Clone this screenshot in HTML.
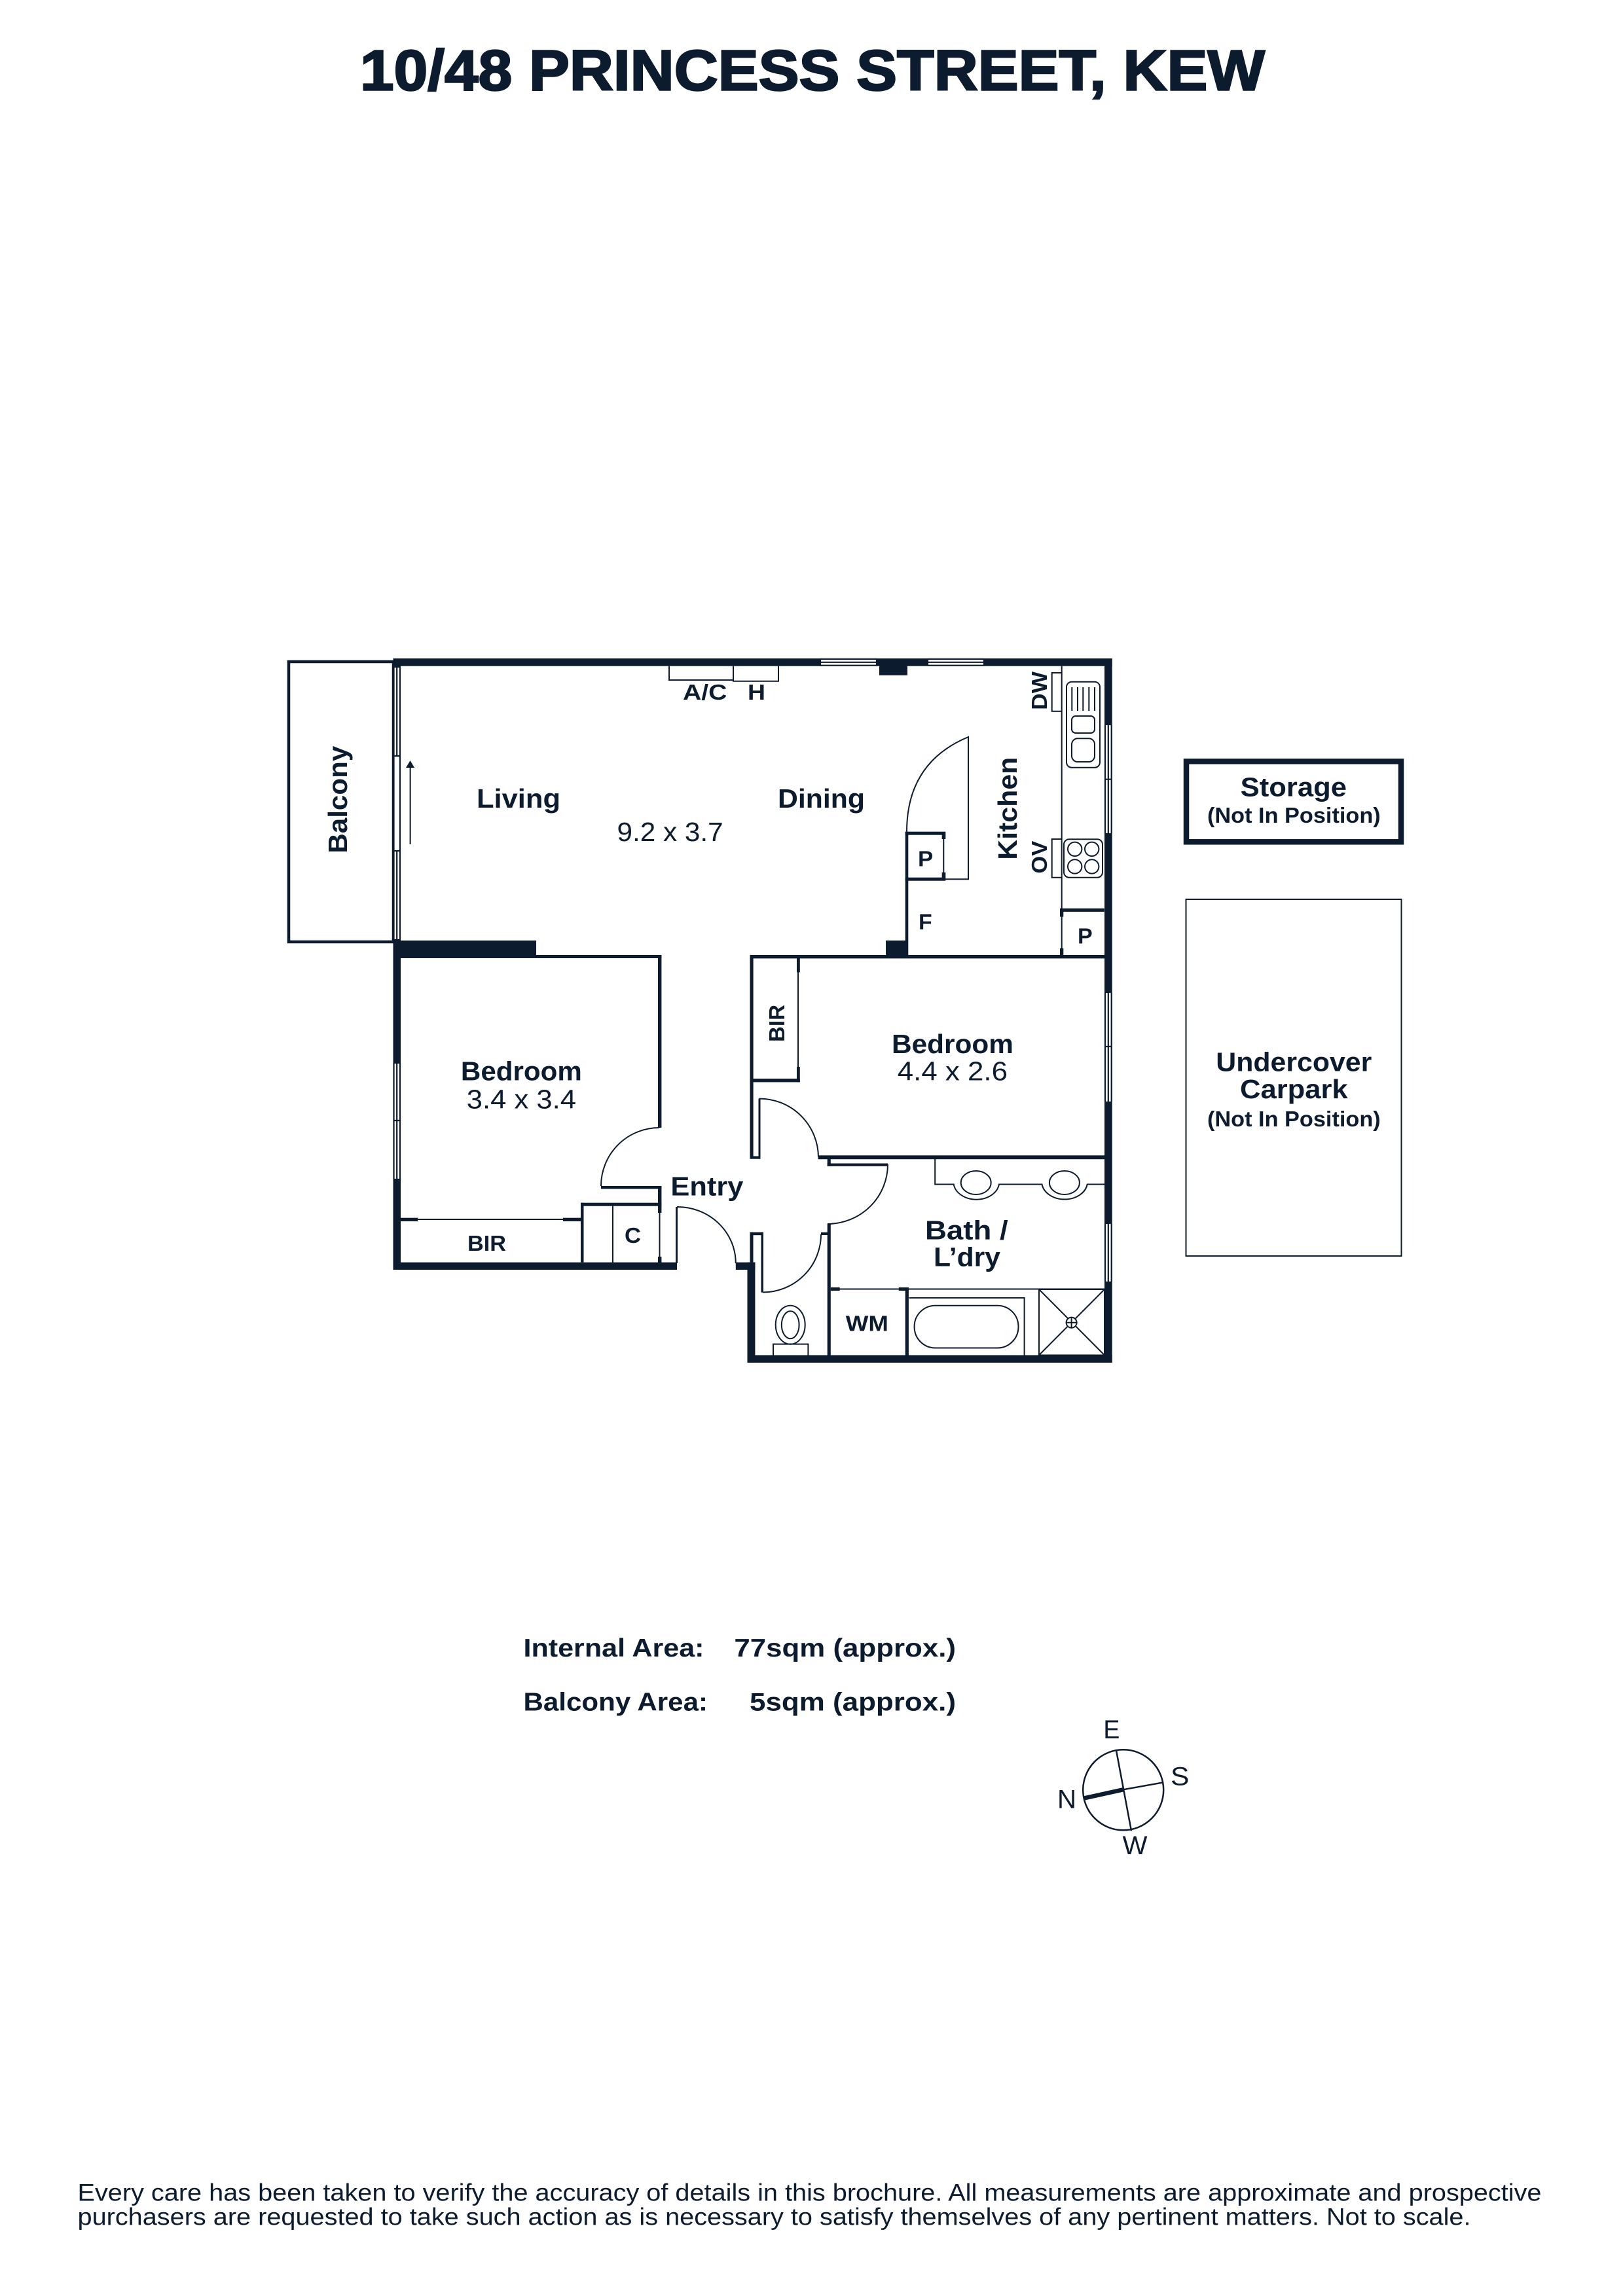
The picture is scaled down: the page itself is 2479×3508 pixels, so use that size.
<!DOCTYPE html>
<html lang="en">
<head>
<meta charset="utf-8">
<title>10/48 Princess Street, Kew</title>
<style>
html,body{margin:0;padding:0;background:#fff}
svg{display:block}
text{font-family:"Liberation Sans",sans-serif;fill:#0c1b2e}
</style>
</head>
<body>
<svg xmlns="http://www.w3.org/2000/svg" width="2479" height="3508" viewBox="0 0 2479 3508">
<rect width="2479" height="3508" fill="#fff"/>

<text x="550" y="137.3" font-size="87" font-weight="bold" stroke="#0c1b2e" stroke-width="2.5" textLength="1382" lengthAdjust="spacingAndGlyphs">10/48 PRINCESS STREET, KEW</text>

<!-- Balcony -->
<rect x="441" y="1011" width="160" height="428" fill="none" stroke="#0c1b2e" stroke-width="4.5"/>

<g fill="#0c1b2e">
<!-- outer walls -->
<rect x="600.5" y="1006" width="1098.2" height="11.7"/>
<rect x="1687" y="1006" width="11.7" height="1076"/>
<rect x="600.5" y="1006" width="11.5" height="934"/>
<rect x="600.5" y="1928.7" width="433.5" height="11.3"/>
<rect x="1123.8" y="1928.7" width="29.6" height="11.3"/>
<rect x="1141.5" y="1928.7" width="11.9" height="153.3"/>
<rect x="1141.5" y="2070.5" width="557.2" height="11.5"/>
<!-- blocks / columns -->
<rect x="600.5" y="1437" width="218.5" height="27"/>
<rect x="1343" y="1006" width="43" height="25.7"/>
<rect x="1353" y="1437" width="34" height="25"/>
<!-- bedroom 1 walls -->
<rect x="819" y="1459" width="191.4" height="5"/>
<rect x="1005" y="1459" width="5.4" height="264"/>
<rect x="918" y="1812" width="92.4" height="4.5"/>
<rect x="1005" y="1812" width="5.4" height="41"/>
<rect x="887" y="1837.7" width="123.4" height="5"/>
<rect x="887" y="1837.7" width="4.5" height="91"/>
<rect x="1005" y="1920" width="5.4" height="9"/>
<rect x="612" y="1860.7" width="26" height="5.3"/>
<rect x="860" y="1860.7" width="27" height="5.3"/>
<!-- bedroom 2 / central walls -->
<rect x="1145.5" y="1459" width="542" height="5.4"/>
<rect x="1145.5" y="1459" width="5.1" height="311.5"/>
<rect x="1158.5" y="1678.6" width="3" height="92"/>
<rect x="1145.5" y="1766.5" width="16" height="4.2"/>
<rect x="1217" y="1464" width="4.8" height="21.5"/>
<rect x="1217" y="1630" width="4.8" height="23.4"/>
<rect x="1150" y="1648" width="71.8" height="5.4"/>
<rect x="1249.5" y="1765.3" width="437.5" height="5.9"/>
<rect x="1263.7" y="1771" width="5.1" height="10.8"/>
<rect x="1263.7" y="1777.5" width="92.5" height="4.3"/>
<rect x="1263.7" y="1870" width="5.1" height="200.5"/>
<rect x="1254" y="1882.8" width="10" height="4.2"/>
<!-- wc door jamb -->
<rect x="1145.5" y="1882.7" width="5" height="46"/>
<rect x="1145.5" y="1882.7" width="20.5" height="4.5"/>
<rect x="1162.5" y="1882.7" width="3.5" height="92"/>
<!-- entry leaf -->
<rect x="1032" y="1844" width="3" height="86"/>
<!-- kitchen -->
<rect x="1382.7" y="1270.7" width="4.6" height="190"/>
<rect x="1382.7" y="1270.7" width="61.6" height="5"/>
<rect x="1382.7" y="1340.7" width="61.6" height="5"/>
<rect x="1438.7" y="1275" width="5.6" height="7"/>
<rect x="1438.7" y="1333" width="5.6" height="8"/>
<rect x="1619" y="1388" width="67.7" height="5"/>
<rect x="1619" y="1388" width="5.3" height="12.7"/>
<rect x="1619" y="1449" width="5.3" height="11"/>
<!-- bath -->
<rect x="1268.8" y="1967" width="13.9" height="5"/>
<rect x="1372.8" y="1967" width="15.1" height="5"/>
<rect x="1382.7" y="1969.5" width="5.2" height="101"/>
</g>

<!-- Windows -->
<g>
<rect x="1253" y="1006" width="86" height="11.7" fill="#fff"/>
<rect x="1417" y="1006" width="86" height="11.7" fill="#fff"/>
<rect x="600.5" y="1020" width="11.5" height="415" fill="#fff"/>
<rect x="600.5" y="1624" width="11.5" height="178" fill="#fff"/>
<rect x="1687" y="1108" width="11.7" height="165" fill="#fff"/>
<rect x="1687" y="1517" width="11.7" height="166" fill="#fff"/>
<rect x="1687" y="1870" width="11.7" height="88" fill="#fff"/>
</g>
<g stroke="#0c1b2e" stroke-width="2.2" fill="none">
<path d="M1253,1007H1339M1253,1011.8H1339M1253,1016.7H1339M1253,1006V1017.7M1339,1006V1017.7"/>
<path d="M1417,1007H1503M1417,1011.8H1503M1417,1016.7H1503M1417,1006V1017.7M1503,1006V1017.7"/>
<path d="M601.5,1020V1435M611,1020V1435M606.2,1020V1155M606.2,1300V1435M600.5,1155H612M600.5,1300H612"/>
<path d="M601.5,1624V1802M611,1624V1802M606.2,1624V1802M600.5,1712H612M600.5,1624H612M600.5,1802H612"/>
<path d="M1688,1108V1273M1692.8,1108V1273M1697.7,1108V1273M1687,1190.7H1698.7"/>
<path d="M1688,1517V1683M1692.8,1517V1683M1697.7,1517V1683M1687,1599H1698.7"/>
<path d="M1688,1870V1958M1692.8,1870V1958M1697.7,1870V1958"/>
</g>

<!-- Thin lines -->
<g stroke="#0c1b2e" stroke-width="2" fill="none">
<!-- A/C, H -->
<path d="M1022,1017.7V1039H1120"/>
<path d="M1120,1017.7V1040.7H1189V1017.7"/>
<!-- sliding arrow -->
<path d="M626.6,1170V1290"/>
<!-- bench -->
<path d="M1621.7,1017.7V1388M1621.7,1400V1449"/>
<path d="M1621.7,1028H1606.7V1086.7H1621.7"/>
<path d="M1621.7,1282H1606.7V1340.7H1621.7"/>
<rect x="1629" y="1041.7" width="51" height="131" rx="8"/>
<path d="M1637.3,1050V1086M1646,1050V1086M1654.3,1050V1086M1663.3,1050V1086M1672,1050V1086"/>
<rect x="1637" y="1094" width="35" height="26" rx="6"/>
<rect x="1637" y="1128.3" width="35" height="35.7" rx="9"/>
<rect x="1625" y="1282.3" width="59" height="58.4" rx="8"/>
<circle cx="1641.7" cy="1297.3" r="10.7"/>
<circle cx="1667.7" cy="1297.3" r="10.7"/>
<circle cx="1641.7" cy="1324" r="10.7"/>
<circle cx="1667.7" cy="1324" r="10.7"/>
<!-- fridge door -->
<path d="M1444,1343.3H1479V1126Q1385,1165 1385,1270.7"/>
<path d="M1441.3,1282V1333"/>
<!-- bedroom 1 -->
<path d="M1007,1723A89,89 0 0 0 918,1812"/>
<path d="M638,1863H860"/>
<path d="M936,1842V1929"/>
<path d="M1007.5,1852V1920"/>
<!-- bedroom 2 -->
<path d="M1219,1485V1630"/>
<path d="M1159.5,1678.6A90,90 0 0 1 1250,1768"/>
<path d="M1356,1779A92,91 0 0 1 1264,1870"/>
<path d="M1254,1886A89,88.5 0 0 1 1165,1974.5"/>
<path d="M1034,1844A89,86 0 0 1 1123.8,1930"/>
<!-- vanity -->
<path d="M1428.2,1771V1809.5H1456.7A35,27 0 0 0 1526,1809.5H1591.5A35,27 0 0 0 1660.7,1809.5H1687"/>
<ellipse cx="1490.7" cy="1807" rx="23" ry="18"/>
<ellipse cx="1625.9" cy="1807" rx="23" ry="18"/>
<!-- lower bath -->
<path d="M1282,1969.5H1687"/>
<path d="M1388.6,1983H1564.6V2070.5"/>
<rect x="1396.6" y="1994.7" width="158.9" height="64.8" rx="32"/>
<rect x="1587" y="1970" width="100" height="100.5"/>
<path d="M1587,1970L1687,2070.5M1687,1970L1587,2070.5"/>
<circle cx="1636.6" cy="2020.8" r="8" fill="#fff"/>
<path d="M1628.6,2020.8H1644.6M1636.6,2012.8V2028.8"/>
<!-- toilet -->
<ellipse cx="1207.2" cy="2024.2" rx="22.5" ry="29.5"/>
<ellipse cx="1207.2" cy="2024.2" rx="13.4" ry="21"/>
<path d="M1181,2070.5V2053.6H1234.4V2070.5"/>
<!-- car park -->
<rect x="1811.5" y="1374" width="329" height="545"/>
</g>
<path d="M620,1173H633L626.6,1162Z" fill="#0c1b2e"/>

<!-- Storage -->
<rect x="1812" y="1163.3" width="328" height="123" fill="none" stroke="#0c1b2e" stroke-width="8.5"/>

<!-- Room labels -->
<g font-size="41" font-weight="bold">
<text x="728" y="1234" textLength="128" lengthAdjust="spacingAndGlyphs">Living</text>
<text x="1188" y="1234" textLength="133" lengthAdjust="spacingAndGlyphs">Dining</text>
<text transform="translate(530,1303.7) rotate(-90)" textLength="164" lengthAdjust="spacingAndGlyphs">Balcony</text>
<text transform="translate(1553,1313.7) rotate(-90)" textLength="157" lengthAdjust="spacingAndGlyphs">Kitchen</text>
<text x="703.9" y="1650.7" textLength="185" lengthAdjust="spacingAndGlyphs">Bedroom</text>
<text x="1362" y="1609" textLength="186" lengthAdjust="spacingAndGlyphs">Bedroom</text>
<text x="1024.4" y="1826.7" textLength="111" lengthAdjust="spacingAndGlyphs">Entry</text>
<text x="1413" y="1893.3" textLength="126.7" lengthAdjust="spacingAndGlyphs">Bath /</text>
<text x="1426" y="1934.5" textLength="102" lengthAdjust="spacingAndGlyphs">L’dry</text>
<text x="1894.7" y="1216.3" textLength="162.3" lengthAdjust="spacingAndGlyphs">Storage</text>
<text x="1857.3" y="1636.3" textLength="238" lengthAdjust="spacingAndGlyphs">Undercover</text>
<text x="1894" y="1678" textLength="164.7" lengthAdjust="spacingAndGlyphs">Carpark</text>
</g>
<g font-size="41">
<text x="942.5" y="1285" textLength="162.2" lengthAdjust="spacingAndGlyphs">9.2 x 3.7</text>
<text x="712.8" y="1693.3" textLength="167.2" lengthAdjust="spacingAndGlyphs">3.4 x 3.4</text>
<text x="1370.8" y="1650.4" textLength="168.2" lengthAdjust="spacingAndGlyphs">4.4 x 2.6</text>
</g>
<g font-size="33" font-weight="bold">
<text x="1043" y="1069" textLength="67.5" lengthAdjust="spacingAndGlyphs">A/C</text>
<text x="1142" y="1069" textLength="27" lengthAdjust="spacingAndGlyphs">H</text>
<text x="1402" y="1323.3" textLength="23.3" lengthAdjust="spacingAndGlyphs">P</text>
<text x="1403" y="1420" textLength="20.7" lengthAdjust="spacingAndGlyphs">F</text>
<text x="1646" y="1441.7" textLength="22.7" lengthAdjust="spacingAndGlyphs">P</text>
<text x="714" y="1911" textLength="59" lengthAdjust="spacingAndGlyphs">BIR</text>
<text x="954" y="1899" textLength="25" lengthAdjust="spacingAndGlyphs">C</text>
<text x="1291.8" y="2033.4" textLength="65.2" lengthAdjust="spacingAndGlyphs">WM</text>
<text transform="translate(1198,1592) rotate(-90)" textLength="57" lengthAdjust="spacingAndGlyphs">BIR</text>
<text transform="translate(1599,1084.7) rotate(-90)" textLength="58.7" lengthAdjust="spacingAndGlyphs">DW</text>
<text transform="translate(1599,1334.7) rotate(-90)" textLength="50" lengthAdjust="spacingAndGlyphs">OV</text>
<text x="1844" y="1257" textLength="264.7" lengthAdjust="spacingAndGlyphs">(Not In Position)</text>
<text x="1844" y="1721" textLength="264.7" lengthAdjust="spacingAndGlyphs">(Not In Position)</text>
</g>

<!-- Areas -->
<g font-size="39" font-weight="bold">
<text x="799.5" y="2531" textLength="276" lengthAdjust="spacingAndGlyphs">Internal Area:</text>
<text x="1121.4" y="2531" textLength="338.6" lengthAdjust="spacingAndGlyphs">77sqm (approx.)</text>
<text x="799.5" y="2613.3" textLength="281.5" lengthAdjust="spacingAndGlyphs">Balcony Area:</text>
<text x="1145" y="2613.3" textLength="315" lengthAdjust="spacingAndGlyphs">5sqm (approx.)</text>
</g>

<!-- Compass -->
<circle cx="1715.7" cy="2734.8" r="61.5" fill="none" stroke="#0c1b2e" stroke-width="2.5"/>
<path d="M1704.9,2674L1728,2797.3M1715.5,2734.3L1777,2723.3" stroke="#0c1b2e" stroke-width="2.5" fill="none"/>
<path d="M1656.5,2747.3L1715.5,2734.3" stroke="#0c1b2e" stroke-width="6.5" fill="none"/>
<g font-size="40">
<text x="1685.4" y="2656" textLength="25" lengthAdjust="spacingAndGlyphs">E</text>
<text x="1788" y="2727.3" textLength="28.4" lengthAdjust="spacingAndGlyphs">S</text>
<text x="1615" y="2762.7" textLength="29" lengthAdjust="spacingAndGlyphs">N</text>
<text x="1714.5" y="2833" textLength="38" lengthAdjust="spacingAndGlyphs">W</text>
</g>

<!-- Footer -->
<g font-size="37">
<text x="118.5" y="3362.3" textLength="2236" lengthAdjust="spacingAndGlyphs">Every care has been taken to verify the accuracy of details in this brochure. All measurements are approximate and prospective</text>
<text x="118.5" y="3399.3" textLength="2128" lengthAdjust="spacingAndGlyphs">purchasers are requested to take such action as is necessary to satisfy themselves of any pertinent matters. Not to scale.</text>
</g>
</svg>
</body>
</html>
